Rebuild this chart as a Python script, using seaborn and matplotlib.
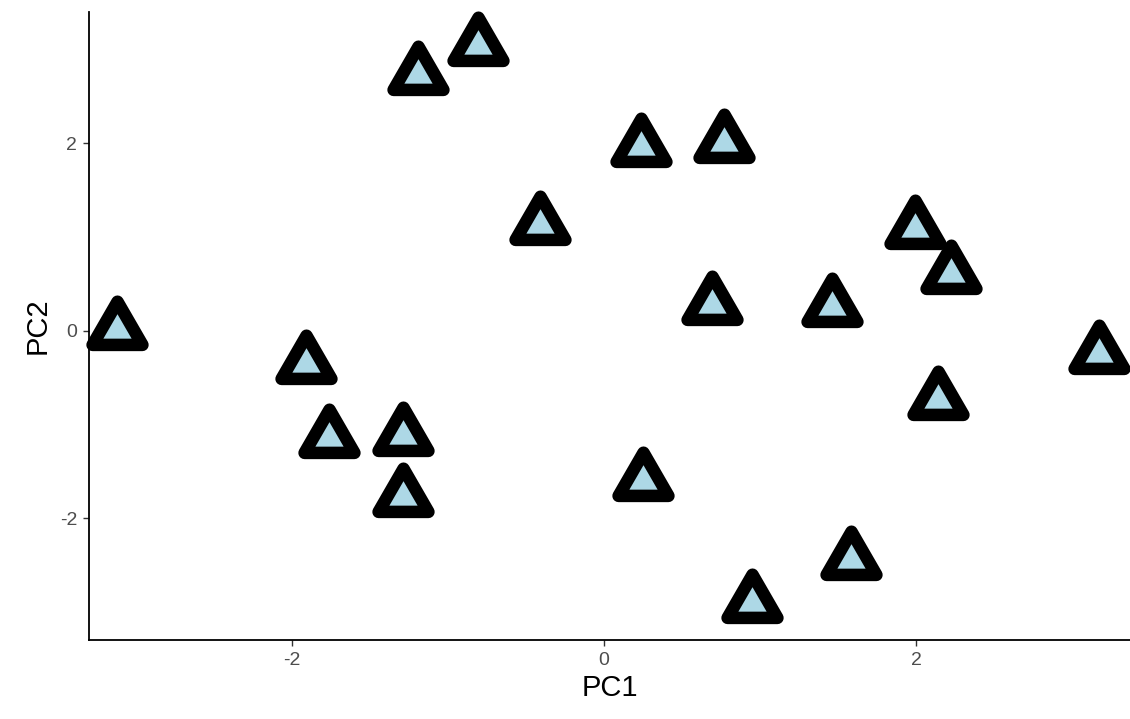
import matplotlib
matplotlib.use("Agg")
import matplotlib.pyplot as plt
from matplotlib.markers import MarkerStyle
from matplotlib.path import Path
import numpy as np
import pandas as pd
import seaborn as sns

# Data (PCA scores)
pc1 = [-3.12, -1.91, -1.76, -1.29, -1.29, -1.19, -0.81, -0.41, 0.24, 0.77,
       0.25, 0.69, 1.46, 1.99, 2.22, 2.14, 3.17, 1.58, 0.95]
pc2 = [0.01, -0.36, -1.14, -1.12, -1.77, 2.73, 3.04, 1.13, 1.96, 2.00,
       -1.60, 0.27, 0.25, 1.09, 0.61, -0.74, -0.25, -2.45, -2.90]
x_ticks = [-2, 0, 2]
x_tick_labels = ["-2", "0", "2"]
y_ticks = [-2, 0, 2]
y_tick_labels = ["-2", "0", "2"]

sns.set_theme(style="ticks")
plt.rcParams["font.family"] = ["Liberation Sans", "DejaVu Sans"]

W, H = 1130, 719
fig = plt.figure(figsize=(W / 100, H / 100), dpi=100)
left, right, top, bottom = 89, 1130, 12, 640
ax = fig.add_axes([left / W, 1 - bottom / H, (right - left) / W, (bottom - top) / H])

df = pd.DataFrame({"PC1": pc1, "PC2": pc2})
tri_path = Path([(0, 1), (-0.866, -0.5), (0.866, -0.5), (0, 1)],
                [Path.MOVETO, Path.LINETO, Path.LINETO, Path.CLOSEPOLY])
tri = MarkerStyle(tri_path, joinstyle="round")
sns.scatterplot(data=df, x="PC1", y="PC2", ax=ax, marker=tri, s=1720,
                color="#ADD8E6", edgecolor="black", linewidth=9.0, zorder=3,
                clip_on=False)
ax.collections[0].set_joinstyle("round")

ax.set_xlim(-3.30, 3.37)
ax.set_ylim(-3.30, 3.40)
ax.set_xticks(x_ticks)
ax.set_xticklabels(x_tick_labels)
ax.set_yticks(y_ticks)
ax.set_yticklabels(y_tick_labels)

for s in ["top", "right"]:
    ax.spines[s].set_visible(False)
for s in ["left", "bottom"]:
    ax.spines[s].set_color("black")
    ax.spines[s].set_linewidth(1.3)

ax.tick_params(axis="both", length=4.5, width=1.0, color="#333333",
               labelsize=14, labelcolor="#4D4D4D", pad=4)
ax.set_xlabel("PC1", fontsize=21, color="black", labelpad=4)
ax.set_ylabel("PC2", fontsize=21, color="black", labelpad=6)
ax.set_facecolor("white")
fig.patch.set_facecolor("white")

fig.savefig("out.png", dpi=100)
